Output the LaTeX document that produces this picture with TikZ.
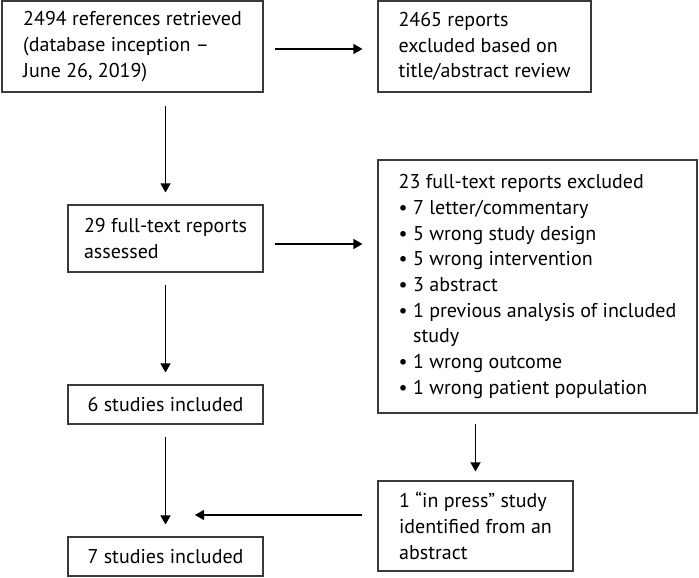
\documentclass[tikz,border=0pt]{standalone}
\usepackage{fontspec}
\setmainfont{PT Sans}
\usepackage{tikz}
\usetikzlibrary{arrows.meta}
\usetikzlibrary{positioning}
\definecolor{boxline}{HTML}{3A3A3A}
\tikzset{arr/.style = {draw=black, line width=1.3pt,
                       -{Triangle[length=9pt, width=10pt]}}}
\tikzset{stage/.style = {draw=boxline, line width=1.1pt, align=left,
                         inner sep=0, font=\fontsize{20}{25.7}\selectfont}}

\begin{document}
\begin{tikzpicture}[x=1pt, y=-1pt]
    \useasboundingbox (0,0) rectangle (699,578);
    % boxes
    \node [stage, minimum width=261, minimum height=91] (refs) at (132.5,46.5)
      {2494 references retrieved\\(database inception –\\June 26, 2019)};
    \node [stage, minimum width=213, minimum height=91] (excl) at (484.5,46.5)
      {2465 reports\\excluded based on\\title/abstract review};
    \node [stage, minimum width=195, minimum height=67] (full) at (165.5,238.5)
      {29 full-text reports\\assessed};
    \node [stage, minimum width=319, minimum height=253] (reasons) at (537.5,286.5)
      {23 full-text reports excluded\\
       • 7 letter/commentary\\
       • 5 wrong study design\\
       • 5 wrong intervention\\
       • 3 abstract\\
       • 1 previous analysis of included\\
       \phantom{• }study\\
       • 1 wrong outcome\\
       • 1 wrong patient population};
    \node [stage, minimum width=195, minimum height=39] (six) at (165.5,404.5)
      {6 studies included};
    \node [stage, minimum width=195, minimum height=90] (press) at (475.5,526)
      {1 “in press” study\\identified from an\\abstract};
    \node [stage, minimum width=195, minimum height=39] (seven) at (165.5,556.5)
      {7 studies included};
    \coordinate (join) at (195,515);
    % arrows
    \draw [arr, shorten <=11pt, shorten >=15pt]
      ([yshift=-2.5pt]refs.east) -- ([yshift=-2.5pt]excl.west);
    \draw [arr, shorten <=13pt, shorten >=12pt] (refs.south -| full.north) -- (full.north);
    \draw [arr, shorten <=11pt, shorten >=15pt]
      ([yshift=-5.5pt]full.east) -- ([yshift=-5.5pt]full.east -| reasons.west);
    \draw [arr, shorten <=12pt, shorten >=12pt] (full.south) -- (six.north);
    \draw [arr, shorten <=12pt, shorten >=12pt] (six.south) -- (seven.north);
    \draw [arr, shorten <=10pt, shorten >=9pt] (reasons.south -| press.north) -- (press.north);
    \draw [arr, shorten <=15pt] ([yshift=11pt]press.west) -- (join);
\end{tikzpicture}
\end{document}
